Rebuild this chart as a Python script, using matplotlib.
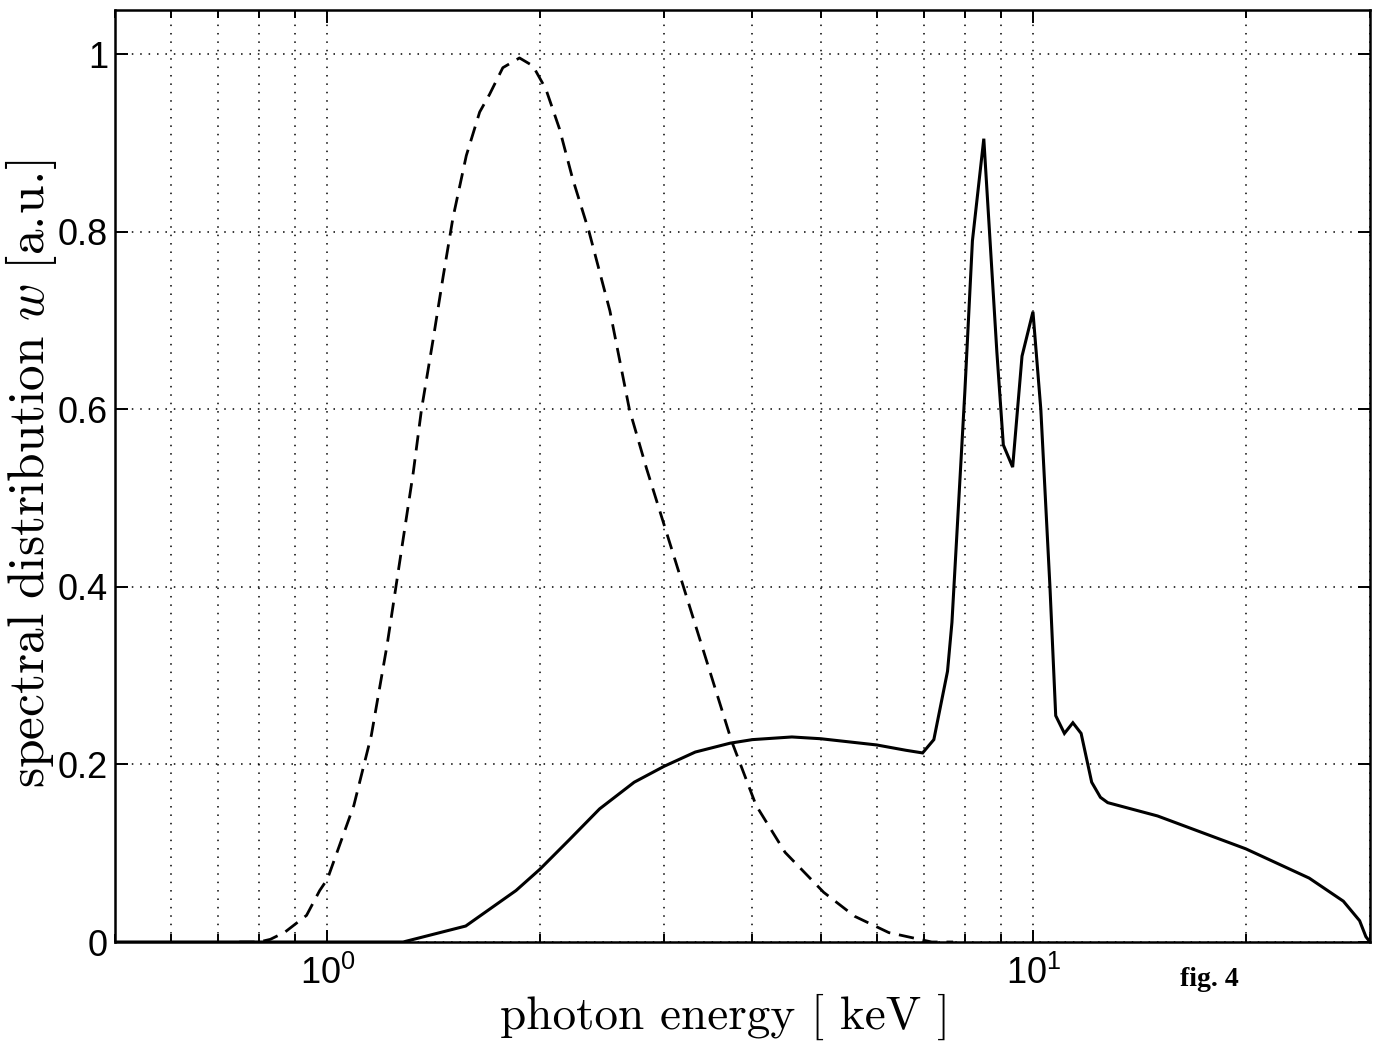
import numpy as np
import matplotlib
matplotlib.use("Agg")
import matplotlib.pyplot as plt
from matplotlib.ticker import LogLocator, FuncFormatter, NullFormatter, FixedLocator

plt.rcParams['font.family'] = ['Liberation Sans', 'DejaVu Sans']
plt.rcParams['mathtext.fontset'] = 'custom'
plt.rcParams['mathtext.rm'] = 'cmr10'
plt.rcParams['mathtext.it'] = 'cmmi10'
plt.rcParams['mathtext.default'] = 'regular'

# solid curve: emitted spectrum
energy_solid = [0.5, 1.28, 1.57, 1.85, 2.0, 2.2, 2.43, 2.72, 3.0, 3.32, 3.72, 4.0,
                4.55, 5.0, 6.0, 6.6, 6.97, 7.23, 7.56, 7.67, 8.0, 8.2, 8.51, 8.88,
                9.07, 9.35, 9.64, 9.99, 10.25, 10.56, 10.76, 11.07, 11.38, 11.69, 12.1,
                12.45, 12.75, 15.0, 20.0, 24.6, 27.5, 29.0, 29.6, 30.0]
w_solid = [0.0, 0.0, 0.018, 0.058, 0.082, 0.115, 0.150, 0.180, 0.198, 0.214, 0.224, 0.228,
           0.231, 0.229, 0.222, 0.216, 0.213, 0.228, 0.305, 0.36, 0.62, 0.79, 0.905, 0.665,
           0.56, 0.535, 0.66, 0.71, 0.60, 0.40, 0.255, 0.235, 0.247, 0.235, 0.18,
           0.163, 0.157, 0.142, 0.105, 0.072, 0.046, 0.024, 0.006, 0.0]

# dashed curve
energy_dash = [0.75, 0.8, 0.83, 0.87, 0.934, 0.975, 1.0, 1.09, 1.154, 1.215, 1.323, 1.359,
               1.411, 1.458, 1.506, 1.573, 1.643, 1.697, 1.772, 1.871, 1.955, 2.039, 2.132,
               2.225, 2.348, 2.513, 2.678, 2.833, 3.224, 3.739, 4.048, 4.45, 5.047, 5.583,
               6.242, 7.18, 7.7]
w_dash = [0.0, 0.0, 0.003, 0.011, 0.03, 0.058, 0.071, 0.154, 0.233, 0.335, 0.529, 0.6,
          0.678, 0.749, 0.816, 0.886, 0.935, 0.955, 0.985, 0.996, 0.987, 0.961, 0.916,
          0.86, 0.8, 0.711, 0.6, 0.533, 0.39, 0.226, 0.154, 0.101, 0.056, 0.029, 0.0106,
          0.0, 0.0]

y_ticks = [0, 0.2, 0.4, 0.6, 0.8, 1.0]

fig = plt.figure(figsize=(13.96, 10.42), dpi=100)
ax = fig.add_axes([115/1396, 100/1042, 1255/1396, 932/1042])

ax.plot(energy_solid, w_solid, color='k', lw=2.2, solid_joinstyle='miter')
ax.plot(energy_dash, w_dash, color='k', lw=2.0, dashes=(5.5, 3.2))

ax.set_xscale('log')
ax.set_xlim(0.5, 30)
ax.set_ylim(0, 1.05)

ax.xaxis.set_major_locator(LogLocator(base=10))
ax.xaxis.set_minor_locator(LogLocator(base=10, subs=np.arange(2, 10)))
ax.xaxis.set_major_formatter(FuncFormatter(lambda v, p: r'$10^{%d}$' % round(np.log10(v))))
ax.xaxis.set_minor_formatter(NullFormatter())
ax.yaxis.set_major_locator(FixedLocator(y_ticks))
ax.yaxis.set_major_formatter(FuncFormatter(lambda v, p: '%g' % v))

grid_style = dict(color='k', linestyle=(0, (1, 4.5)), linewidth=1.1)
ax.grid(True, which='both', axis='x', **grid_style)
ax.grid(True, which='major', axis='y', **grid_style)

ax.tick_params(which='both', direction='in', top=True, right=True, width=1.4,
               labelsize=26)
ax.tick_params(which='major', length=9)
ax.tick_params(which='minor', length=6)
ax.tick_params(axis='x', pad=10)
ax.tick_params(axis='y', pad=5)
for s in ax.spines.values():
    s.set_linewidth(1.8)

ax.set_xlabel('photon energy [ keV ]', fontfamily='cmr10', fontsize=34)
ax.xaxis.set_label_coords(0.486, -0.055)
ax.set_ylabel(r'$\mathrm{spectral\ distribution}\ \mathit{w}\ \mathrm{[a.\!u.\!]}$', fontsize=37)
ax.yaxis.set_label_coords(-0.045, 0.503)

fig.text(1180/1396, 1 - 986/1042, 'fig. 4', fontfamily='Liberation Serif',
         fontweight='bold', fontsize=20)

fig.savefig('out.png', dpi=100)
